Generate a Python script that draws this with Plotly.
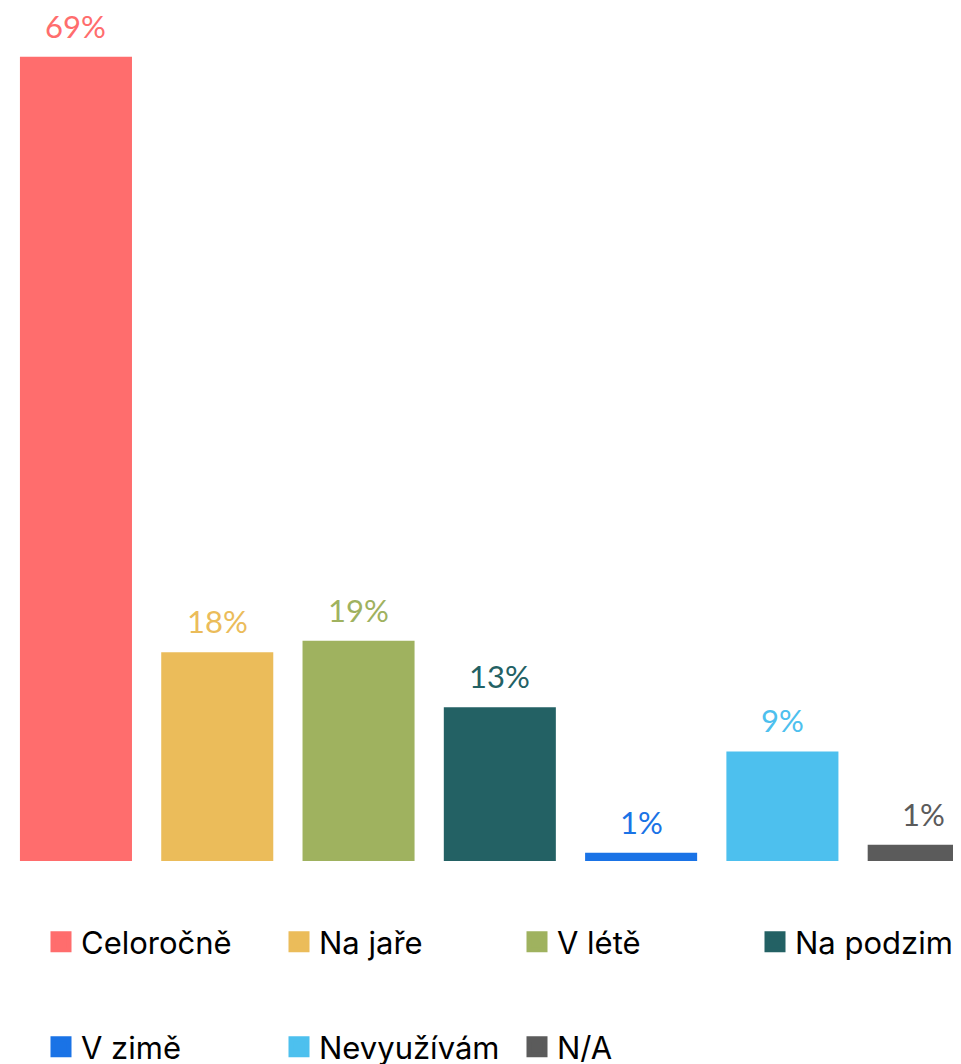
import plotly.graph_objects as go

categories = ["Celoročně", "Na jaře", "V létě", "Na podzim", "V zimě", "Nevyužívám", "N/A"]
values = [69.0, 17.9, 18.9, 13.2, 0.7, 9.4, 1.4]
colors = ["#FF6D6D", "#EBBC5A", "#9FB25F", "#236164", "#1A73E6", "#4DC0EE", "#5B5B5B"]
labels = [f"{v:.0f}%" for v in values]

# legend grid: 4 columns, 2 rows (pixels from top-left of the figure)
legend_cols = [33, 271, 509, 747]
legend_rows = [934, 1039]

# page has an 8px body margin, so keep the figure inside the window
W, H = 953, 1056

fig = go.Figure()
layout_legends = {}

for i, cat in enumerate(categories):
    fig.add_trace(go.Bar(
        x=[cat], y=[values[i]],
        marker=dict(color=colors[i], line=dict(width=0)),
        showlegend=False, hoverinfo="skip",
    ))
    lg = "legend" if i == 0 else f"legend{i + 1}"
    # legend swatch (bar traces only get a tiny fixed swatch)
    fig.add_trace(go.Scatter(
        x=[None], y=[None], mode="markers", name=cat,
        marker=dict(symbol="square", size=22, color=colors[i],
                    line=dict(width=5, color=colors[i])),
        legend=lg,
    ))
    layout_legends[lg] = dict(
        xref="container", yref="container",
        x=legend_cols[i % 4] / W, y=1 - legend_rows[i // 4] / H,
        xanchor="left", yanchor="middle",
        font=dict(family="Inter", size=31, color="#000000"),
        itemsizing="trace", bgcolor="rgba(0,0,0,0)",
    )
    fig.add_annotation(
        x=cat, y=values[i], text=labels[i], showarrow=False,
        yanchor="bottom", yshift=10,
        font=dict(family="Lato", size=31, color=colors[i]),
    )

fig.update_layout(
    width=W, height=H,
    margin=dict(l=0, r=0, t=37, b=203, autoexpand=False),
    paper_bgcolor="white", plot_bgcolor="white",
    barmode="overlay", bargap=0.207,
    xaxis=dict(type="category", categoryorder="array", categoryarray=categories,
               range=[-0.481, 6.264], showticklabels=False, showgrid=False,
               zeroline=False, fixedrange=True),
    yaxis=dict(range=[0, 70], showticklabels=False, showgrid=False,
               zeroline=False, fixedrange=True),
    **layout_legends,
)

fig.write_html("out.html")
